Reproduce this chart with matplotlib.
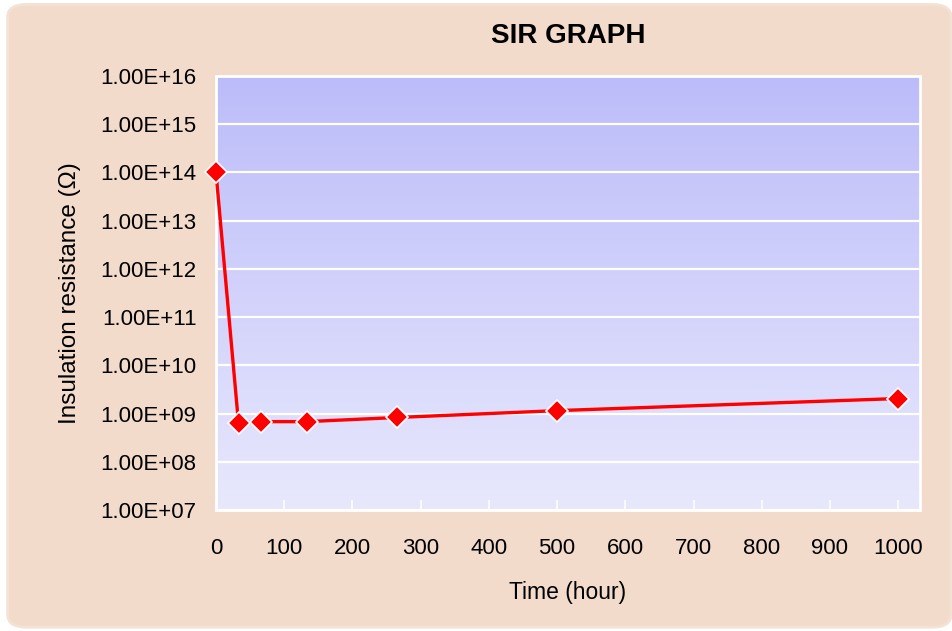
import numpy as np
import matplotlib.pyplot as plt
from matplotlib.patches import FancyBboxPatch
from matplotlib.ticker import FixedLocator, FuncFormatter

# --- data ---
time_h = [0, 33, 66, 133, 266, 500, 1000]
resistance = [1.0e14, 6.3e8, 6.8e8, 6.8e8, 8.3e8, 1.15e9, 2.05e9]
x_ticks = [0, 100, 200, 300, 400, 500, 600, 700, 800, 900, 1000]
y_exponents = [7, 8, 9, 10, 11, 12, 13, 14, 15, 16]

plt.rcParams['font.family'] = ['Liberation Sans', 'DejaVu Sans']

fig = plt.figure(figsize=(9.53, 6.31), dpi=100)
fig.patch.set_facecolor('white')

# peach rounded background (behind the axes)
bg = FancyBboxPatch((0.008, 0.006), 0.99, 0.987,
                    boxstyle='round,pad=0,rounding_size=0.02',
                    transform=fig.transFigure, facecolor='#F2DBCA',
                    edgecolor='#F4E2D6', linewidth=2, zorder=-10)
fig.patches.append(bg)

ax = fig.add_axes([216 / 953, 1 - 510 / 631, 704 / 953, 434 / 631])
ax.set_facecolor('none')
ax.set_zorder(1)

# vertical gradient in the plot area
grad = np.linspace(0, 1, 256).reshape(-1, 1)
top = np.array([188, 188, 250]) / 255
bot = np.array([232, 232, 253]) / 255
img = top + (bot - top) * grad[..., None]
ax.imshow(img, extent=[0, 1, 0, 1], transform=ax.transAxes,
          aspect='auto', zorder=0)

ax.set_yscale('log')
ax.set_xlim(0, 1032)
ax.set_ylim(1e7, 1e16)

for e in y_exponents:
    ax.axhline(10.0 ** e, color='white', lw=1.6, zorder=1)

ax.plot(time_h, resistance, color='#FF0000', lw=2.4, zorder=3,
        marker='D', markersize=11, markerfacecolor='#FF0000',
        markeredgecolor='white', markeredgewidth=1.2, clip_on=False)

ax.yaxis.set_major_locator(FixedLocator([10.0 ** e for e in y_exponents]))
ax.yaxis.set_minor_locator(FixedLocator([]))
ax.yaxis.set_major_formatter(FuncFormatter(lambda v, p: '1.00E+%02d' % round(np.log10(v))))
ax.set_xticks(x_ticks)

ax.tick_params(axis='x', direction='in', length=7, width=1.2, color='white',
               labelsize=16, pad=20)
ax.tick_params(axis='y', length=0, labelsize=16, pad=14)

for s in ax.spines.values():
    s.set_color('white')
    s.set_linewidth(2)

ax.set_title('SIR GRAPH', fontsize=20, fontweight='bold', pad=24)
ax.set_xlabel('Time (hour)', fontsize=16.5, labelpad=16)
ax.set_ylabel('Insulation resistance (Ω)', fontsize=17.5, labelpad=14)

fig.savefig('out.png', dpi=100)
